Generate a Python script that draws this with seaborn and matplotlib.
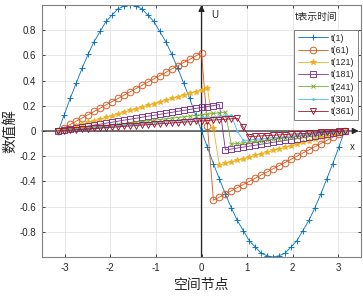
import numpy as np
import pandas as pd
import matplotlib
matplotlib.use("Agg")
import matplotlib.pyplot as plt
import seaborn as sns

# spatial nodes (49 nodes from -pi to pi)
x_nodes = np.linspace(-np.pi, np.pi, 49)

labels = ["t(1)", "t(61)", "t(121)", "t(181)", "t(241)", "t(301)", "t(361)"]

u_t1 = [0, 0.13, 0.26, 0.38, 0.5, 0.61, 0.71, 0.79, 0.87, 0.92, 0.97, 0.99, 1.0,
        0.99, 0.97, 0.92, 0.87, 0.79, 0.71, 0.61, 0.5, 0.38, 0.26, 0.13, 0.0,
        -0.13, -0.26, -0.38, -0.5, -0.61, -0.71, -0.79, -0.87, -0.92, -0.97, -0.99, -1.0,
        -0.99, -0.97, -0.92, -0.87, -0.79, -0.71, -0.61, -0.5, -0.38, -0.26, -0.13, 0.0]
u_t61 = [0, 0.026, 0.052, 0.078, 0.103, 0.129, 0.155, 0.181, 0.207, 0.233, 0.258, 0.284,
         0.31, 0.336, 0.362, 0.388, 0.413, 0.439, 0.465, 0.491, 0.517, 0.543, 0.568, 0.594,
         0.62, 0.04,
         -0.55, -0.525, -0.5, -0.475, -0.45, -0.425, -0.4, -0.375, -0.35, -0.325, -0.3,
         -0.275, -0.25, -0.225, -0.2, -0.175, -0.15, -0.125, -0.1, -0.075, -0.05, -0.025, 0]
u_t121 = [0, 0.014, 0.027, 0.041, 0.054, 0.068, 0.082, 0.095, 0.109, 0.122, 0.136, 0.15,
          0.163, 0.177, 0.19, 0.204, 0.218, 0.231, 0.245, 0.258, 0.272, 0.286, 0.299, 0.313,
          0.326, 0.34, 0.02,
          -0.27, -0.257, -0.244, -0.231, -0.219, -0.206, -0.193, -0.18, -0.167, -0.154,
          -0.141, -0.129, -0.116, -0.103, -0.09, -0.077, -0.064, -0.051, -0.039, -0.026,
          -0.013, 0]
u_t181 = [0, 0.008, 0.016, 0.023, 0.031, 0.039, 0.047, 0.054, 0.062, 0.07, 0.078, 0.086,
          0.093, 0.101, 0.109, 0.117, 0.124, 0.132, 0.14, 0.148, 0.156, 0.163, 0.171, 0.179,
          0.187, 0.194, 0.202, 0.21,
          -0.15, -0.143, -0.135, -0.128, -0.12, -0.113, -0.105, -0.098, -0.09, -0.083,
          -0.075, -0.068, -0.06, -0.053, -0.045, -0.038, -0.03, -0.023, -0.015, -0.008, 0]
u_t241 = [0, 0.005, 0.011, 0.016, 0.021, 0.027, 0.032, 0.038, 0.043, 0.048, 0.054, 0.059,
          0.064, 0.07, 0.075, 0.08, 0.086, 0.091, 0.096, 0.102, 0.107, 0.113, 0.118, 0.123,
          0.129, 0.134, 0.139, 0.145, 0.15,
          -0.105, -0.099, -0.094, -0.088, -0.083, -0.077, -0.072, -0.066, -0.061, -0.055,
          -0.05, -0.044, -0.039, -0.033, -0.028, -0.022, -0.017, -0.011, -0.006, 0]
u_t301 = [0, 0.004, 0.009, 0.013, 0.017, 0.022, 0.026, 0.03, 0.034, 0.039, 0.043, 0.047,
          0.052, 0.056, 0.06, 0.065, 0.069, 0.073, 0.078, 0.082, 0.086, 0.091, 0.095, 0.099,
          0.103, 0.108, 0.112, 0.116, 0.121, 0.125, 0.0,
          -0.075, -0.071, -0.066, -0.062, -0.057, -0.053, -0.049, -0.044, -0.04, -0.035,
          -0.031, -0.026, -0.022, -0.018, -0.013, -0.009, -0.004, 0]
u_t361 = [0, 0.003, 0.007, 0.01, 0.013, 0.017, 0.02, 0.023, 0.027, 0.03, 0.033, 0.037,
          0.04, 0.043, 0.047, 0.05, 0.053, 0.057, 0.06, 0.063, 0.067, 0.07, 0.073, 0.077,
          0.08, 0.083, 0.087, 0.09, 0.093, 0.097, 0.1, 0.03,
          -0.045, -0.042, -0.039, -0.037, -0.034, -0.031, -0.028, -0.025, -0.023, -0.02,
          -0.017, -0.014, -0.011, -0.008, -0.006, -0.003, 0]

x_ticks = [-3, -2, -1, 0, 1, 2, 3]
y_ticks = [-0.8, -0.6, -0.4, -0.2, 0, 0.2, 0.4, 0.6, 0.8]
y_tick_labels = ["-0.8", "-0.6", "-0.4", "-0.2", "0", "0.2", "0.4", "0.6", "0.8"]

series = [u_t1, u_t61, u_t121, u_t181, u_t241, u_t301, u_t361]
colors = ["#0072BD", "#D95319", "#EDB120", "#7E2F8E", "#77AC30", "#4DBEEE", "#A2142F"]
markers = ["+", "o", "*", "s", "x", ".", "v"]
msizes = [4.5, 4.8, 4.2, 4.0, 3.5, 2.5, 4.3]
filled = [True, False, True, False, True, True, False]

sns.set_style("ticks")
plt.rcParams["font.family"] = ["Liberation Sans", "Noto Sans CJK SC", "DejaVu Sans"]
plt.rcParams["axes.unicode_minus"] = False

fig = plt.figure(figsize=(3.63, 2.97), dpi=100)
ax = fig.add_axes([42 / 363, 1 - 257 / 297, 319 / 363, 252 / 297])

for lab, vals, c, m, ms, f in zip(labels, series, colors, markers, msizes, filled):
    sns.lineplot(x=x_nodes, y=vals, ax=ax, color=c, marker=m, markersize=ms,
                 markerfacecolor=(c if f else "none"), markeredgecolor=c,
                 markeredgewidth=0.65, linewidth=0.6, label=lab,
                 estimator=None, sort=False)

ax.set_xlim(-3.5, 3.5)
ax.set_ylim(-1, 1)
ax.set_xticks(x_ticks)
ax.set_xticklabels([str(t) for t in x_ticks])
ax.set_yticks(y_ticks)
ax.set_yticklabels(y_tick_labels)
ax.grid(True, color="#e3e3e3", linewidth=0.6)
ax.set_axisbelow(True)
ax.tick_params(direction="in", length=2.5, width=0.6, labelsize=7,
               colors="#262626", top=True, right=True, pad=4)
for sp in ax.spines.values():
    sp.set_visible(True)
    sp.set_color("#808080")
    sp.set_linewidth(0.8)

ax.set_xlabel("空间节点", fontsize=10, labelpad=4, family=["Noto Sans CJK SC"])
ax.set_ylabel("数值解", fontsize=10.5, labelpad=2, family=["Noto Sans CJK SC"])

# coordinate axes with arrows
arrow_kw = dict(arrowstyle="-|>", color="#262626", lw=0.9, mutation_scale=9,
                shrinkA=0, shrinkB=0)
ax.annotate("", xy=(0, 1.0), xytext=(0, -1.0), arrowprops=arrow_kw, zorder=1)
ax.annotate("", xy=(3.45, 0), xytext=(-3.5, 0), arrowprops=arrow_kw, zorder=1)
ax.text(0.29, 0.92, "U", fontsize=7, ha="center", va="center", color="#262626")
ax.text(3.3, -0.13, "x", fontsize=7, ha="center", va="center", color="#262626")

leg = ax.legend(loc="upper right", bbox_to_anchor=((358 - 42) / 319, (257 - 30) / 252),
                fontsize=6.5, frameon=True, fancybox=False, edgecolor="#808080",
                handlelength=3.3, borderpad=0.4, labelspacing=0.36,
                handletextpad=0.35, borderaxespad=0)
leg.get_frame().set_linewidth(0.7)
leg.get_frame().set_alpha(1)
ax.text((316 - 42) / 319, (257 - 17) / 252, "t表示时间", transform=ax.transAxes,
        fontsize=7, ha="center", va="center", color="#262626",
        family=["Noto Sans CJK SC"])

fig.savefig("out.png", dpi=100)
